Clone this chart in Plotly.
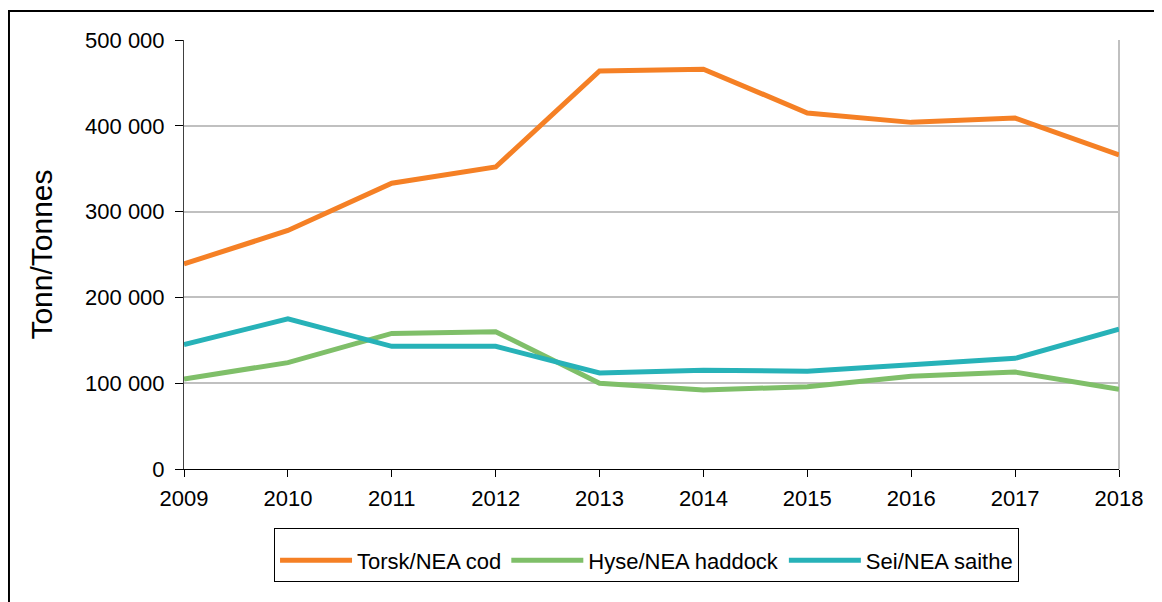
import plotly.graph_objects as go

years = [2009, 2010, 2011, 2012, 2013, 2014, 2015, 2016, 2017, 2018]
cod = [239000, 278000, 333000, 352000, 464000, 466000, 415000, 404000, 409000, 366000]
haddock = [105000, 124000, 158000, 160000, 100000, 92000, 96000, 108000, 113000, 93000]
saithe = [145000, 175000, 143000, 143000, 112000, 115000, 114000, 121000, 129000, 163000]
names = ["Torsk/NEA cod", "Hyse/NEA haddock", "Sei/NEA saithe"]
colors = ["#F58025", "#7FBF69", "#27B2B8"]
yticks = [0, 100000, 200000, 300000, 400000, 500000]
ytick_labels = ["0", "100 000", "200 000", "300 000", "400 000", "500 000"]
title = "Arctic saithe north of 62°N. 2009-2018."

FONT = "Liberation Sans, Arial, sans-serif"

fig = go.Figure()
for series, name, color in zip([cod, haddock, saithe], names, colors):
    fig.add_trace(go.Scatter(x=years, y=series, name=name, mode="lines",
                             line=dict(color=color, width=5)))

fig.update_layout(
    width=1162, height=602,
    margin=dict(l=176, r=51, t=32, b=141),
    paper_bgcolor="white", plot_bgcolor="white",
    font=dict(family=FONT, color="black", size=22),
    showlegend=True,
    legend=dict(orientation="h", x=0.0963, y=-0.1375, xanchor="left", yanchor="top",
                bordercolor="black", borderwidth=1, font=dict(size=22, family=FONT),
                itemwidth=72,
                title=dict(text="\u00a0", side="top", font=dict(size=8))),
    xaxis=dict(range=[2009, 2018], tickvals=years, ticktext=[str(y) for y in years],
               showgrid=False, showline=True, linecolor="black", linewidth=1,
               ticks="outside", ticklen=7, tickcolor="black", tickfont=dict(size=22),
               ticklabelstandoff=3, zeroline=False),
    yaxis=dict(range=[0, 500000], tickvals=yticks, ticktext=ytick_labels,
               showgrid=True, gridcolor="#C0C0C0", gridwidth=2,
               showline=True, linecolor="#404040", linewidth=1,
               ticks="outside", ticklen=8, tickcolor="black", tickfont=dict(size=22),
               ticklabelstandoff=6, zeroline=False,
               title=dict(text="Tonn/Tonnes", font=dict(size=30), standoff=23)),
)

# right-hand gray frame line of plot area
fig.add_shape(type="line", xref="paper", yref="paper", x0=1, x1=1, y0=0, y1=1,
              line=dict(color="#C0C0C0", width=2), layer="below")
# outer chart frame (extends beyond the window on the right and bottom)
fig.add_shape(type="rect", xref="paper", yref="paper", x0=-0.1872, x1=1.08, y0=-0.45, y1=1.0676,
              line=dict(color="black", width=2), layer="below")
# chart title, cut off at the top edge as in the source
fig.add_annotation(text=title, xref="paper", yref="paper", x=0.0, y=1.0676 + 4 / 429,
                   xanchor="left", yanchor="bottom", showarrow=False,
                   font=dict(size=22, family=FONT))

fig.write_html("out.html")
